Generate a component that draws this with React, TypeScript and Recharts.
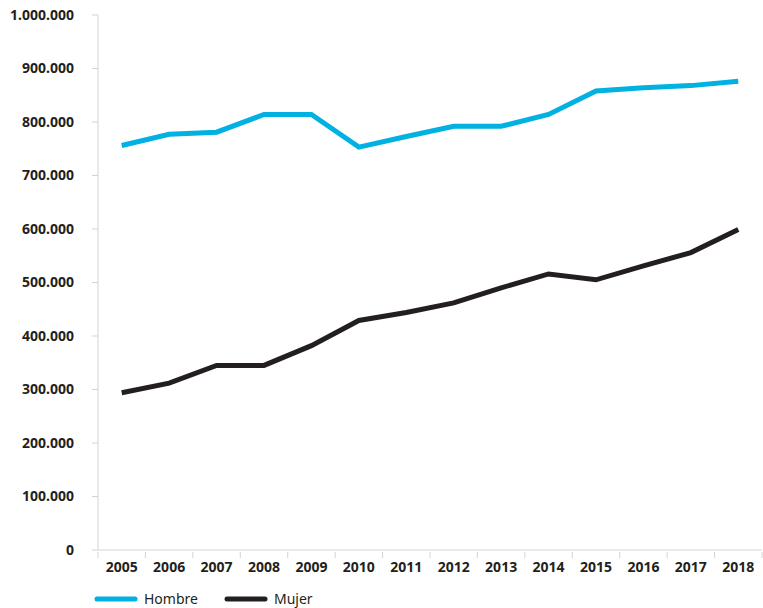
import { LineChart, Line, XAxis, YAxis, Legend } from 'recharts';

const years = ['2005', '2006', '2007', '2008', '2009', '2010', '2011', '2012', '2013', '2014', '2015', '2016', '2017', '2018'];
const hombre = [756000, 777000, 781000, 814000, 814000, 753000, 773000, 792000, 792000, 814000, 858000, 864000, 868000, 876000];
const mujer = [294000, 312000, 345000, 345000, 382000, 429000, 444000, 462000, 490000, 516000, 505000, 531000, 556000, 599000];
const yTicks = [0, 100000, 200000, 300000, 400000, 500000, 600000, 700000, 800000, 900000, 1000000];

const BLUE = '#00b1e2';
const DARK = '#231f20';
const AXIS = '#d3d3d3';
const FONT = '"Noto Sans", "Open Sans", sans-serif';

const data = years.map((y, i) => ({ year: y, Hombre: hombre[i], Mujer: mujer[i] }));

const fmt = (v: number) => String(v).replace(/\B(?=(\d{3})+(?!\d))/g, '.');

// plot width 664px split into one band per year
const STEP = 664 / years.length;

function XTick(props: any) {
    const { x, y, payload, index } = props;
    return (
        <g>
            <line x1={x - STEP / 2} x2={x - STEP / 2} y1={y - 6} y2={y} stroke={AXIS} />
            {index === years.length - 1 && (
                <line x1={x + STEP / 2} x2={x + STEP / 2} y1={y - 6} y2={y} stroke={AXIS} />
            )}
            <text x={x} y={y + 14} textAnchor="middle" fill={DARK} fontSize={14} fontWeight={700} fontFamily={FONT}>
                {payload.value}
            </text>
        </g>
    );
}

function LegendContent() {
    const items = [
        { name: 'Hombre', color: BLUE },
        { name: 'Mujer', color: DARK },
    ];
    return (
        <div style={{ display: 'flex', alignItems: 'center', fontFamily: FONT, fontSize: 14, color: DARK }}>
            {items.map(it => (
                <div key={it.name} style={{ display: 'flex', alignItems: 'center', marginRight: 26 }}>
                    <svg width={44} height={8} style={{ marginRight: 6 }}>
                        <line x1={3} x2={41} y1={4} y2={4} stroke={it.color} strokeWidth={5} strokeLinecap="round" />
                    </svg>
                    <span>{it.name}</span>
                </div>
            ))}
        </div>
    );
}

export default function App() {
    return (
        <div style={{ position: 'absolute', left: 0, top: 0, width: 763, height: 608, background: '#fff' }}>
            <LineChart width={763} height={608} data={data} margin={{ top: 15, right: 1, bottom: 0, left: 0 }}>
                <XAxis
                    dataKey="year"
                    stroke={AXIS}
                    tickLine={false}
                    tick={<XTick />}
                    interval={0}
                    height={36}
                    padding={{ left: STEP / 2, right: STEP / 2 }}
                />
                <YAxis
                    domain={[0, 1000000]}
                    ticks={yTicks}
                    tickFormatter={fmt}
                    width={98}
                    stroke={AXIS}
                    tickSize={6}
                    tickMargin={18}
                    interval={0}
                    tick={{ fill: DARK, fontSize: 14, fontWeight: 700, fontFamily: FONT }}
                />
                <Legend
                    verticalAlign="bottom"
                    align="left"
                    content={<LegendContent />}
                    wrapperStyle={{ left: 94, bottom: -3, height: 22 }}
                />
                <Line type="linear" dataKey="Hombre" stroke={BLUE} strokeWidth={5} dot={false} isAnimationActive={false} />
                <Line type="linear" dataKey="Mujer" stroke={DARK} strokeWidth={5} dot={false} isAnimationActive={false} />
            </LineChart>
        </div>
    );
}
